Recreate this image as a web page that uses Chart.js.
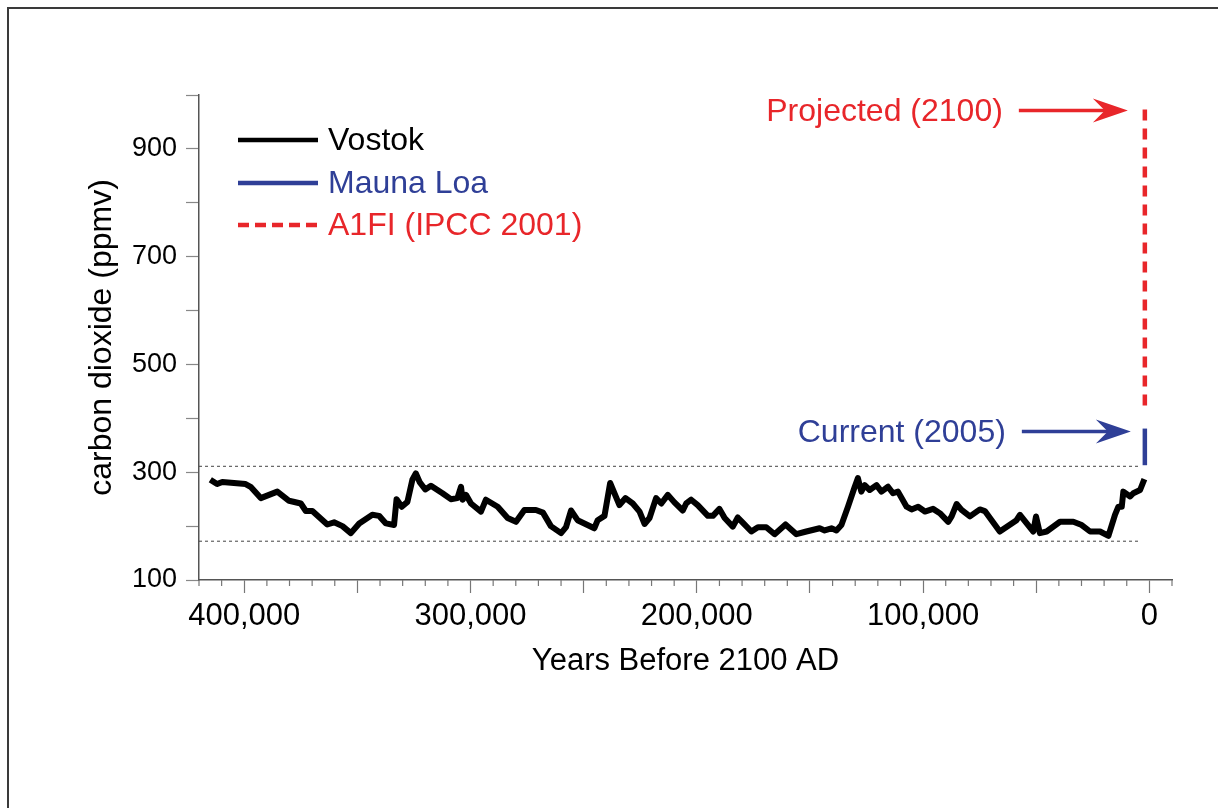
<!DOCTYPE html>
<html>
<head>
<meta charset="utf-8">
<title>Vostok CO2</title>
<script src="https://cdn.jsdelivr.net/npm/chart.js@4.4.1/dist/chart.umd.min.js"></script>
<style>
  html, body { margin: 0; padding: 0; background: #fff; }
  #wrap { width: 1218px; height: 808px; }
</style>
</head>
<body>
<div id="wrap"><canvas id="co2Chart" width="1218" height="808"></canvas></div>
<script>
// Vostok ice core (years before 2100 AD, ppmv)
const vostokYears = [
  415000, 412000, 409700, 399400, 397200, 392700, 385400, 380200, 375000, 372800,
  369900, 363300, 360300, 356600, 352900, 349200, 343400, 340400, 337400, 333800,
  332700, 330400, 327900, 325700, 324200, 322400, 320000, 317500, 312400, 308700,
  305800, 304200, 303500, 302000, 299800, 295400, 293200, 288000, 283600, 279900,
  276200, 271100, 268000, 264500, 260000, 257800, 255600, 252700, 245300, 243800,
  240800, 238300, 234200, 231500, 228300, 225300, 223100, 220900, 218000, 215700,
  212800, 209900, 206200, 204700, 202500, 199600, 195100, 192900, 190000, 187700,
  184100, 181900, 179600, 175900, 173000, 169300, 165600, 160800, 156000, 151600,
  145700, 143500, 140500, 138300, 136100, 133200, 130200, 128800, 127300, 125800,
  123600, 120600, 118400, 115500, 113300, 111100, 107300, 105100, 102200, 99200,
  95600, 92600, 88900, 87400, 85200, 83000, 79300, 74900, 72700, 66100,
  58700, 57200, 54200, 51300, 50100, 48400, 45400, 39500, 33600, 29900,
  26200, 21800, 18100, 15200, 13700, 12200, 11500, 8500, 7100, 4100,
  2200
];
const vostokPpm = [
  286, 278, 282, 278, 273, 252, 264, 247, 242, 228,
  228, 203, 207, 200, 187, 205, 221, 219, 205, 202,
  250, 236, 245, 286, 298, 281, 268, 275, 261, 250,
  252, 273, 249, 258, 242, 227, 249, 236, 215, 208,
  230, 230, 225, 200, 187, 198, 229, 211, 196, 211,
  219, 280, 239, 252, 242, 227, 204, 215, 252, 242,
  258, 244, 229, 242, 249, 239, 219, 219, 232, 215,
  199, 216, 206, 190, 198, 198, 185, 203, 185, 190,
  196, 192, 196, 192, 202, 236, 273, 289, 264, 276,
  267, 276, 264, 273, 261, 264, 236, 231, 236, 227,
  232, 224, 208, 218, 241, 230, 218, 231, 228, 190,
  211, 221, 205, 190, 218, 187, 190, 208, 208, 202,
  190, 190, 182, 221, 236, 236, 264, 255, 261, 267,
  287
];

// Mauna Loa record and the A1FI projection (drawn as a vertical bar near 0)
const maunaLoaYears = [2000, 2000];
const maunaLoaPpm = [313, 381];
const a1fiYears = [2000, 2000];
const a1fiPpm = [973, 410];

// Dotted guide lines showing the range of the ice core record
const rangeYears = [420000, 5000];
const rangeHigh = [311, 311];
const rangeLow = [172, 172];

const xLabelYears = [400000, 300000, 200000, 100000, 0];
const yLabelValues = [100, 300, 500, 700, 900];

const BLUE = '#2f3f97';
const RED = '#e8262a';
const FONT = '"Liberation Sans", Arial, Helvetica, sans-serif';

Chart.defaults.font.family = FONT;
Chart.defaults.color = '#000';

function toPoints(xs, ys) {
  return xs.map((x, i) => ({ x: x, y: ys[i] }));
}

// frame, legend, arrows and the minor x ticks
const extrasPlugin = {
  id: 'extras',
  beforeDraw(chart) {
    const c = chart.ctx;
    c.save();
    c.fillStyle = '#fff';
    c.fillRect(0, 0, chart.width, chart.height);
    c.strokeStyle = '#3a3a3a';
    c.lineWidth = 2;
    c.beginPath();
    c.moveTo(8, chart.height);
    c.lineTo(8, 8);
    c.lineTo(chart.width, 8);
    c.stroke();
    c.restore();
  },
  afterDraw(chart) {
    const c = chart.ctx;
    const xs = chart.scales.x;
    const ys = chart.scales.y;

    // short ticks every 10,000 years
    c.save();
    c.strokeStyle = '#777';
    c.lineWidth = 1.2;
    for (let v = xs.max; v >= xs.min; v -= 10000) {
      if (v % 50000 === 0) continue;
      const px = xs.getPixelForValue(v);
      c.beginPath();
      c.moveTo(px, xs.top);
      c.lineTo(px, xs.top + 6);
      c.stroke();
    }
    c.restore();

    // legend
    const rows = [
      { ds: chart.data.datasets[0], y: 140, color: '#000', dash: [] },
      { ds: chart.data.datasets[1], y: 183, color: BLUE, dash: [] },
      { ds: chart.data.datasets[2], y: 225, color: RED, dash: [11, 6] }
    ];
    c.save();
    c.font = '32px ' + FONT;
    c.textBaseline = 'middle';
    rows.forEach(r => {
      c.strokeStyle = r.ds.borderColor;
      c.lineWidth = 4.5;
      c.setLineDash(r.dash);
      c.beginPath();
      c.moveTo(238, r.y);
      c.lineTo(318, r.y);
      c.stroke();
      c.setLineDash([]);
      c.fillStyle = r.color;
      c.fillText(r.ds.label, 328, r.y + 1);
    });
    c.restore();

    // arrows with labels
    function arrow(text, color, tipX, y) {
      const tailX = tipX - 109;
      c.save();
      c.strokeStyle = color;
      c.fillStyle = color;
      c.lineWidth = 3.5;
      c.beginPath();
      c.moveTo(tailX, y);
      c.lineTo(tipX - 20, y);
      c.stroke();
      c.beginPath();
      c.moveTo(tipX, y);
      c.lineTo(tipX - 35, y - 12);
      c.lineTo(tipX - 23, y);
      c.lineTo(tipX - 35, y + 12);
      c.closePath();
      c.fill();
      c.font = '32px ' + FONT;
      c.textAlign = 'right';
      c.textBaseline = 'middle';
      c.fillText(text, tailX - 16, y + 2);
      c.restore();
    }
    const barX = xs.getPixelForValue(a1fiYears[0]);
    arrow('Projected (2100)', RED, barX - 17, ys.getPixelForValue(a1fiPpm[0]) + 1);
    arrow('Current (2005)', BLUE, barX - 14, ys.getPixelForValue(maunaLoaPpm[1]) + 3);
  }
};

const ctx = document.getElementById('co2Chart').getContext('2d');
new Chart(ctx, {
  type: 'line',
  data: {
    datasets: [
      {
        label: 'Vostok',
        data: toPoints(vostokYears, vostokPpm),
        borderColor: '#000',
        borderWidth: 6,
        borderJoinStyle: 'round',
        pointRadius: 0,
        tension: 0,
        order: 1
      },
      {
        label: 'Mauna Loa',
        data: toPoints(maunaLoaYears, maunaLoaPpm),
        borderColor: BLUE,
        borderWidth: 4.5,
        pointRadius: 0,
        order: 2
      },
      {
        label: 'A1FI (IPCC 2001)',
        data: toPoints(a1fiYears, a1fiPpm),
        borderColor: RED,
        borderWidth: 4.5,
        borderDash: [11, 8],
        pointRadius: 0,
        order: 3
      },
      {
        label: 'range high',
        data: toPoints(rangeYears, rangeHigh),
        borderColor: '#444',
        borderWidth: 1,
        borderDash: [3, 3],
        pointRadius: 0,
        order: 4
      },
      {
        label: 'range low',
        data: toPoints(rangeYears, rangeLow),
        borderColor: '#444',
        borderWidth: 1,
        borderDash: [3, 3],
        pointRadius: 0,
        order: 5
      }
    ]
  },
  options: {
    responsive: false,
    animation: false,
    layout: { padding: { left: 66, top: 95, right: 46, bottom: 128 } },
    plugins: {
      legend: { display: false },
      tooltip: { enabled: false }
    },
    scales: {
      x: {
        type: 'linear',
        reverse: true,
        min: -10000,
        max: 420000,
        afterFit(scale) { scale.height = 100; },
        border: { color: '#555', width: 1.5 },
        grid: {
          drawOnChartArea: false,
          drawTicks: true,
          tickLength: 13,
          tickWidth: 1.2,
          tickColor: c => (c.tick && c.tick.value % 50000 === 0) ? '#777' : 'rgba(0,0,0,0)'
        },
        ticks: {
          stepSize: 10000,
          autoSkip: false,
          maxRotation: 0,
          padding: 5,
          font: { size: 31 },
          color: '#000',
          callback: v => xLabelYears.includes(v) ? v.toLocaleString('en-US') : ''
        },
        title: {
          display: true,
          text: 'Years Before 2100 AD',
          font: { size: 31 },
          color: '#000',
          padding: { top: 0, bottom: 0 }
        }
      },
      y: {
        type: 'linear',
        min: 100,
        max: 1000,
        afterFit(scale) { scale.width = 133; },
        border: { color: '#555', width: 1.5 },
        grid: {
          drawOnChartArea: false,
          drawTicks: true,
          tickLength: 13,
          tickWidth: 1.2,
          tickColor: '#888'
        },
        ticks: {
          stepSize: 100,
          padding: 9,
          font: { size: 27 },
          color: '#000',
          callback: v => yLabelValues.includes(v) ? String(v) : ''
        },
        title: {
          display: true,
          text: 'carbon dioxide (ppmv)',
          font: { size: 32 },
          color: '#000',
          padding: { top: 17, bottom: 0 }
        }
      }
    }
  },
  plugins: [extrasPlugin]
});
</script>
</body>
</html>
